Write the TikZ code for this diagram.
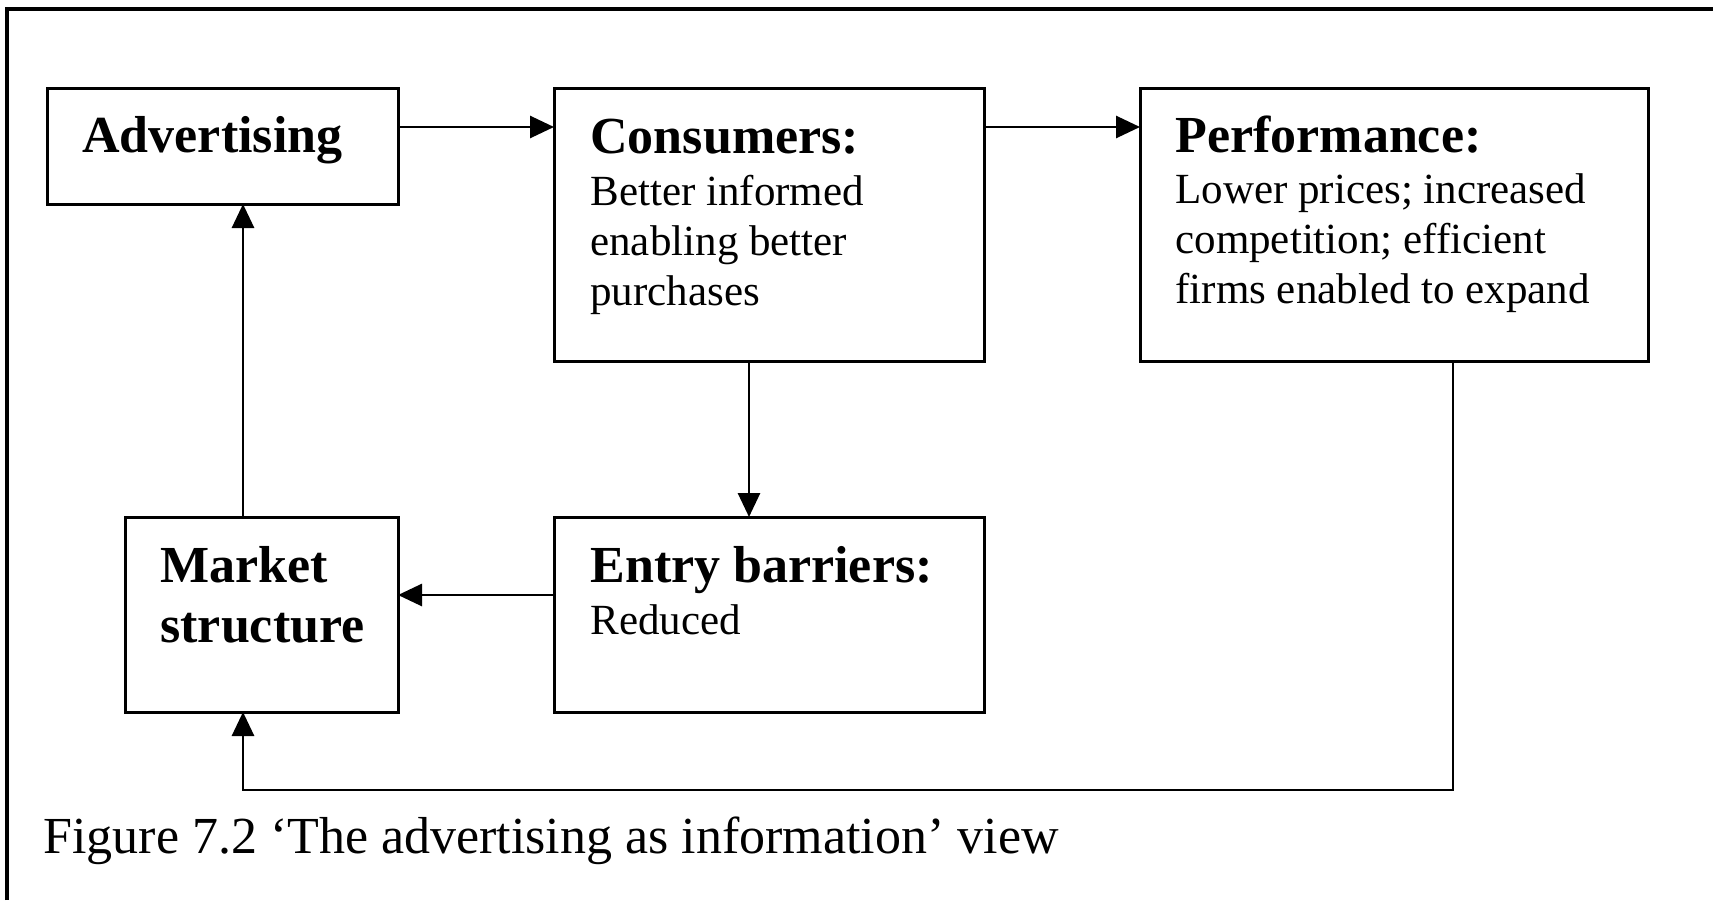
\documentclass[tikz,border=0pt]{standalone}
\usepackage{fontspec}
\setmainfont{Liberation Serif}
\usetikzlibrary{arrows.meta}

\tikzset{
  box/.style={draw, line width=1.5pt, rectangle, anchor=north west, inner sep=0pt, outer sep=0pt},
  ttl/.style={anchor=base west, inner sep=0pt, align=left, font=\fontsize{26}{30}\selectfont\bfseries},
  txt/.style={anchor=base west, inner sep=0pt, align=left, font=\fontsize{21.5}{25}\selectfont},
  arrow/.style={line width=1.4pt, -{Triangle[length=12pt,width=11pt]}}
}

\begin{document}
\begin{tikzpicture}[x=0.5pt,y=-0.5pt]

    % Page size and the frame round the figure
    \useasboundingbox (0,0) rectangle (1713,900);
    \draw[line width=1.6pt] (7,900) -- (7,9) -- (1713,9);

    % Draw the boxes
    \node[box, minimum width=175.5pt, minimum height=58pt] (adv) at (47,88) {};
    \node[box, minimum width=215pt, minimum height=136.5pt] (cons) at (554,88) {};
    \node[box, minimum width=254pt, minimum height=136.5pt] (perf) at (1140,88) {};
    \node[box, minimum width=136.5pt, minimum height=97.5pt] (mkt) at (125,517) {};
    \node[box, minimum width=215pt, minimum height=97.5pt] (entry) at (554,517) {};

    % Titles of the boxes (base anchor sits on the last line)
    \node[ttl] (advT) at ([shift={(35,64)}]adv.north west) {Advertising};
    \node[ttl] (consT) at ([shift={(36,65)}]cons.north west) {Consumers:};
    \node[ttl] (perfT) at ([shift={(35,64)}]perf.north west) {Performance:};
    \node[ttl] (mktT) at ([shift={(35,125)}]mkt.north west) {Market\\structure};
    \node[ttl] (entryT) at ([shift={(36,65)}]entry.north west) {Entry barriers:};

    % Text under the titles
    \node[txt] (consB) at ([shift={(36,217)}]cons.north west) {Better informed\\enabling better\\purchases};
    \node[txt] (perfB) at ([shift={(35,215)}]perf.north west) {Lower prices; increased\\competition; efficient\\firms enabled to expand};
    \node[txt] (entryB) at ([shift={(36,117)}]entry.north west) {Reduced};

    % Draw the arrows
    \draw[arrow] (adv.east |- 0,127) -- (cons.west |- 0,127);
    \draw[arrow] (cons.east |- 0,127) -- (perf.west |- 0,127);
    \draw[arrow] (cons.south -| 749,0) -- (entry.north -| 749,0);
    \draw[arrow] (entry.west |- 0,595) -- (mkt.east |- 0,595);
    \draw[arrow] (mkt.north -| 243,0) -- (adv.south -| 243,0);

    % Feedback line from performance back to market structure
    \coordinate (loop) at (1453,790);
    \coordinate (back) at (243,790);
    \draw[arrow] (perf.south -| loop) -- (loop) -- (back) -- (mkt.south -| back);

    % Caption
    \node[anchor=base west, inner sep=0pt, font=\fontsize{26}{30}\selectfont] (cap) at (43,853) {Figure 7.2 ‘The advertising as information’ view};

\end{tikzpicture}
\end{document}
